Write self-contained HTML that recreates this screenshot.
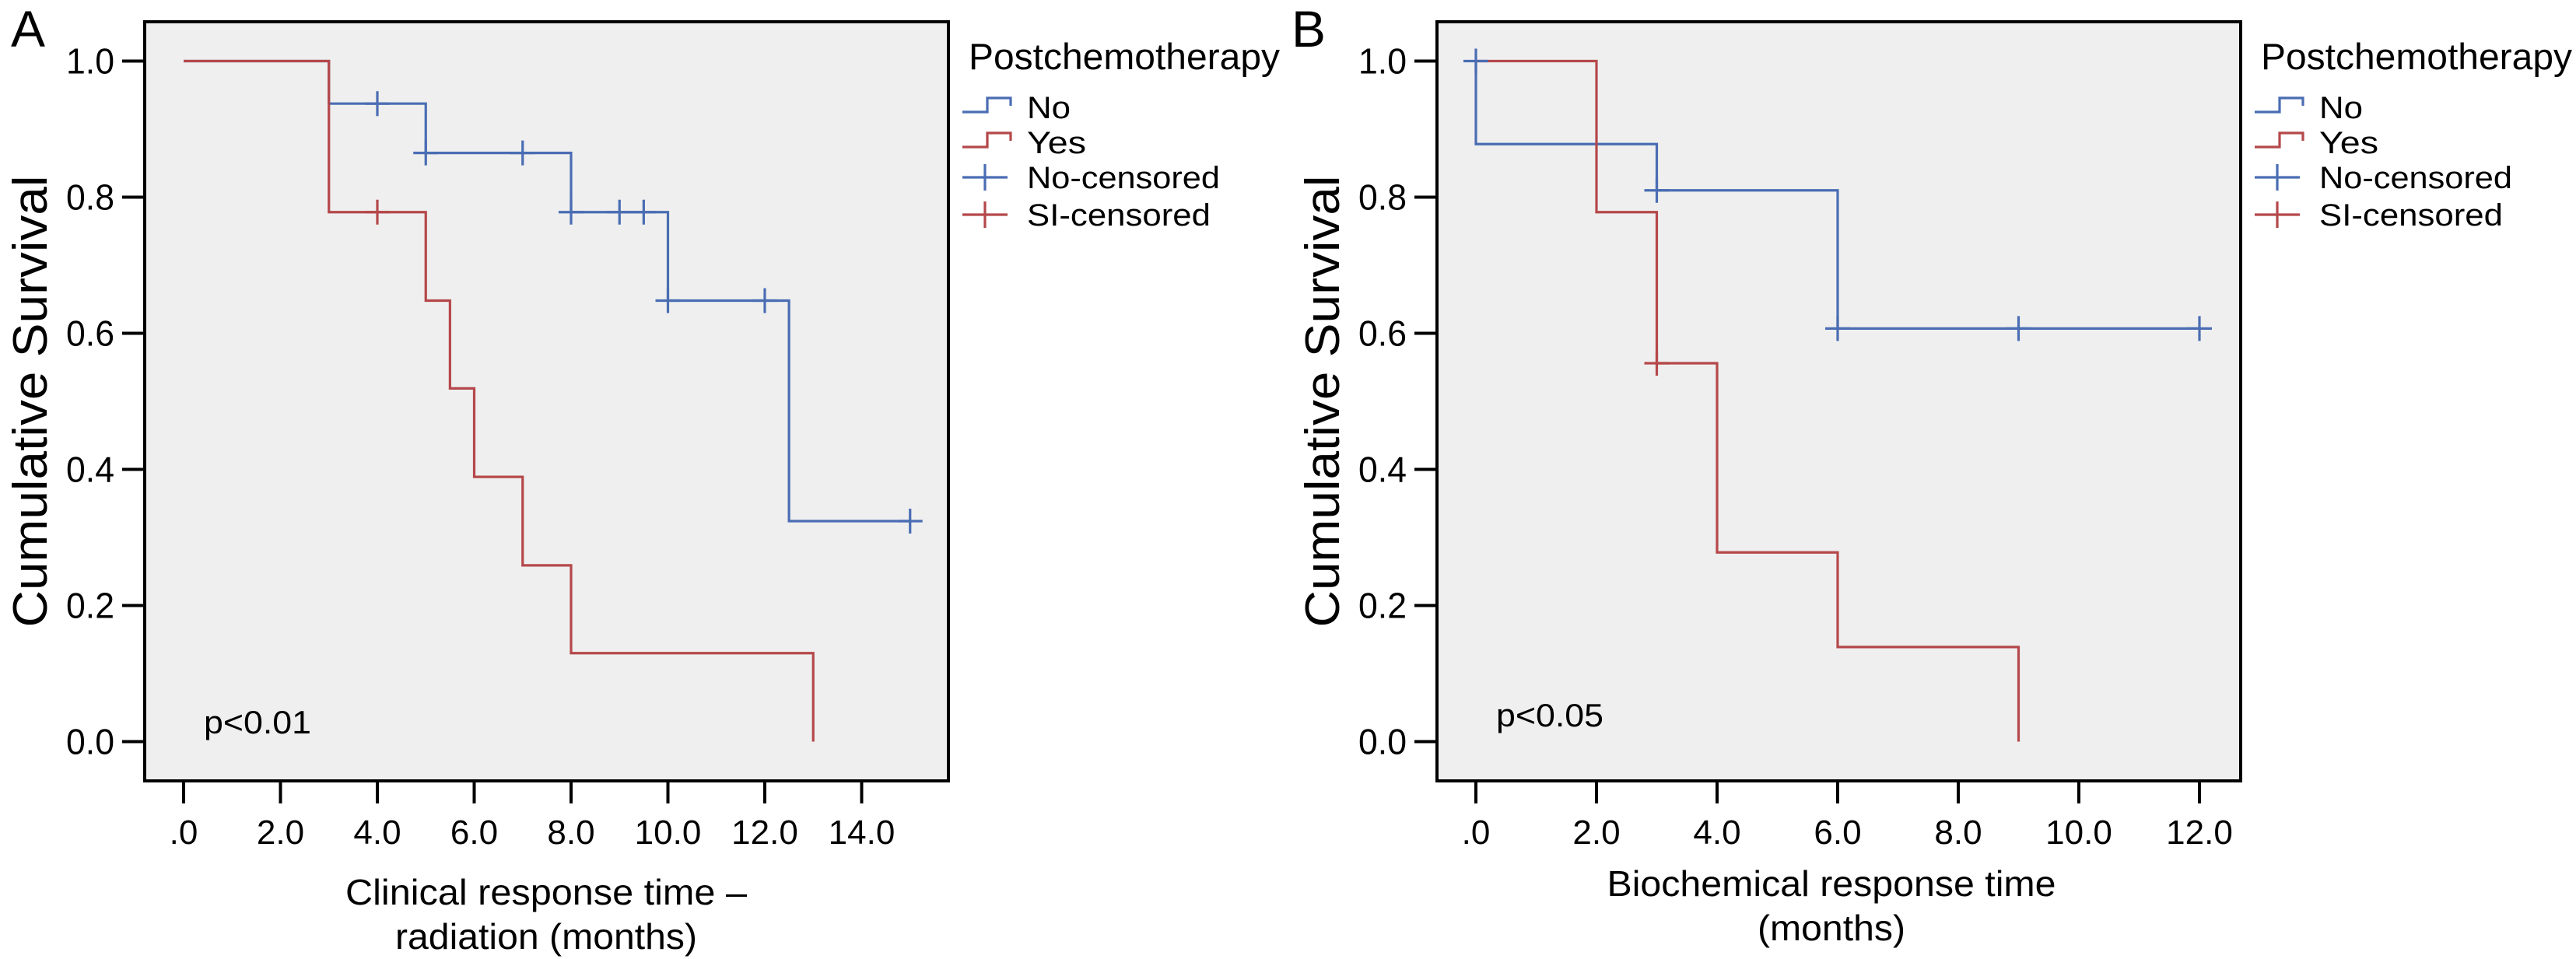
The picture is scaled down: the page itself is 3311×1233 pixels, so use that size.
<!DOCTYPE html>
<html><head><meta charset="utf-8">
<style>
html,body{margin:0;padding:0;background:#fff;}
svg{display:block;font-family:"Liberation Sans",sans-serif;}
</style></head>
<body>
<svg id="chart" width="3311" height="1233" viewBox="0 0 3311 1233" xmlns="http://www.w3.org/2000/svg"></svg>
<script>
// ---- Panel A data ----
const aXTicks = [0, 2, 4, 6, 8, 10, 12, 14];
const aXTickLabels = [".0", "2.0", "4.0", "6.0", "8.0", "10.0", "12.0", "14.0"];
const aNoTimes = [0, 3, 5, 8, 10, 12.5, 15];
const aNoSurv = [1.0, 0.9375, 0.865, 0.778, 0.648, 0.324, 0.324];
const aNoCensor = [4, 5, 7, 8, 9, 9.5, 10, 12, 15];
const aYesTimes = [0, 3, 5, 5.5, 6, 7, 8, 13];
const aYesSurv = [1.0, 0.778, 0.648, 0.519, 0.389, 0.259, 0.130, 0.0];
const aYesCensor = [4];
// ---- Panel B data ----
const bXTicks = [0, 2, 4, 6, 8, 10, 12];
const bXTickLabels = [".0", "2.0", "4.0", "6.0", "8.0", "10.0", "12.0"];
const bNoTimes = [0, 0, 3, 6, 12];
const bNoSurv = [1.0, 0.878, 0.81, 0.607, 0.607];
const bNoCensor = [0, 3, 6, 9, 12];
const bYesTimes = [0, 2, 3, 4, 6, 9];
const bYesSurv = [1.0, 0.778, 0.556, 0.278, 0.139, 0.0];
const bYesCensor = [3];
const yTicks = [0, 0.2, 0.4, 0.6, 0.8, 1.0];
const yTickLabels = ["0.0", "0.2", "0.4", "0.6", "0.8", "1.0"];

const NS = "http://www.w3.org/2000/svg";
const svg = document.getElementById("chart");
const BLUE = "#4a6db3", RED = "#b5484a";
function el(tag, attrs, parent, text) {
  const e = document.createElementNS(NS, tag);
  for (const k in attrs) e.setAttribute(k, attrs[k]);
  if (text !== undefined) e.textContent = text;
  (parent || svg).appendChild(e);
  return e;
}
function stepAt(times, surv, t) {
  if (t === times[0]) return surv[0];
  let s = surv[0];
  for (let i = 0; i < times.length; i++) if (times[i] <= t) s = surv[i];
  return s;
}

function panel(cfg) {
  const g = el("g", {});
  
  
  const X = v => cfg.x0 + v * cfg.xs;
  const Y = v => 953.5 - v * 875;
  const bg = el("rect", {x: cfg.left, y: 28, width: cfg.right - cfg.left, height: 976, fill: "#efefef", stroke: "#000", "stroke-width": 4}, g);
  
  
  yTicks.forEach((v, i) => {
    const t = el("line", {x1: cfg.left - 29, x2: cfg.left, y1: Y(v), y2: Y(v), stroke: "#000", "stroke-width": 4}, g);
    
    
    const l = el("text", {x: cfg.left - 39, y: Y(v) + 16, "font-size": 46, "text-anchor": "end", textLength: 62, lengthAdjust: "spacingAndGlyphs"}, g, yTickLabels[i]);
    
    
  });
  cfg.xTicks.forEach((v, i) => {
    const t = el("line", {x1: X(v), x2: X(v), y1: 1004, y2: 1033, stroke: "#000", "stroke-width": 4}, g);
    
    
    const l = el("text", {x: X(v), y: 1085, "font-size": 44, "text-anchor": "middle"}, g, cfg.xTickLabels[i]);
    
    
  });
  function curve(times, surv, color, name) {
    let d = "M" + X(times[0]) + "," + Y(surv[0]);
    for (let i = 1; i < times.length; i++) {
      d += " H" + X(times[i]) + " V" + Y(surv[i]);
    }
    const p = el("path", {d: d, fill: "none", stroke: color, "stroke-width": 3.2}, g);
    
    
  }
  function censor(list, times, surv, color, name) {
    list.forEach(t => {
      const s = stepAt(times, surv, t);
      const c = el("path", {d: "M" + (X(t) - 16) + "," + Y(s) + " H" + (X(t) + 16) + " M" + X(t) + "," + (Y(s) - 16) + " V" + (Y(s) + 16), stroke: color, "stroke-width": 3.2, fill: "none"}, g);
      
      
    });
  }
  curve(cfg.noT, cfg.noS, BLUE, "no-curve");
  curve(cfg.yesT, cfg.yesS, RED, "yes-curve");
  censor(cfg.noC, cfg.noT, cfg.noS, BLUE, "no-censor-mark");
  censor(cfg.yesC, cfg.yesT, cfg.yesS, RED, "yes-censor-mark");
  const pl = el("text", {x: cfg.left + 76, y: cfg.pY, "font-size": 42, textLength: 138, lengthAdjust: "spacingAndGlyphs"}, g, cfg.p);
  
  
  const letter = el("text", {x: cfg.letterX, y: 60, "font-size": 66}, g, cfg.letter);
  
  
  const yt = el("text", {x: 0, y: 0, "font-size": 62, "text-anchor": "middle", textLength: 581, lengthAdjust: "spacingAndGlyphs", transform: "translate(" + (cfg.left - 126) + ",516) rotate(-90)"}, g, "Cumulative Survival");
  
  
  cfg.xTitle.forEach((s, i) => {
    const t = el("text", {x: cfg.xTitleX, y: cfg.xTitleY[i], "font-size": 46, "text-anchor": "middle", textLength: cfg.xTitleW[i], lengthAdjust: "spacingAndGlyphs"}, g, s);
    
    
  });
  const lg = el("g", {}, g);
  
  
  const lx = cfg.right + 18;
  const lt = el("text", {x: lx + 8, y: 89, "font-size": 47, textLength: 400, lengthAdjust: "spacingAndGlyphs"}, lg, "Postchemotherapy");
  
  
  const items = [["No", BLUE, "step", 152, 56], ["Yes", RED, "step", 197, 76], ["No-censored", BLUE, "cross", 242, 248], ["SI-censored", RED, "cross", 290, 236]];
  items.forEach(it => {
    const sy = it[3] - 14;
    let d;
    if (it[2] === "step") d = "M" + lx + "," + (it[3] - 8) + " H" + (lx + 32) + " V" + (it[3] - 26) + " H" + (lx + 62) + " V" + (it[3] - 16);
    else d = "M" + lx + "," + sy + " H" + (lx + 58) + " M" + (lx + 29) + "," + (sy - 17) + " V" + (sy + 17);
    const s = el("path", {d: d, stroke: it[1], "stroke-width": 3.2, fill: "none"}, lg);
    
    
    const t = el("text", {x: lx + 83, y: it[3], "font-size": 40, textLength: it[4], lengthAdjust: "spacingAndGlyphs"}, lg, it[0]);
    
    
  });
}

panel({name: "panel-a", left: 186, right: 1219, x0: 236, xs: 62.25, xTicks: aXTicks, xTickLabels: aXTickLabels,
  noT: aNoTimes, noS: aNoSurv, noC: aNoCensor, yesT: aYesTimes, yesS: aYesSurv, yesC: aYesCensor,
  p: "p<0.01", pY: 943, letter: "A", letterX: 14, xTitle: ["Clinical response time \u2013", "radiation (months)"],
  xTitleX: 702, xTitleY: [1163, 1220], xTitleW: [516, 388]});
panel({name: "panel-b", left: 1847, right: 2880, x0: 1897, xs: 77.5, xTicks: bXTicks, xTickLabels: bXTickLabels,
  noT: bNoTimes, noS: bNoSurv, noC: bNoCensor, yesT: bYesTimes, yesS: bYesSurv, yesC: bYesCensor,
  p: "p<0.05", pY: 934, letter: "B", letterX: 1660, xTitle: ["Biochemical response time", "(months)"],
  xTitleX: 2354, xTitleY: [1152, 1209], xTitleW: [577, 190]});
</script>
</body></html>
